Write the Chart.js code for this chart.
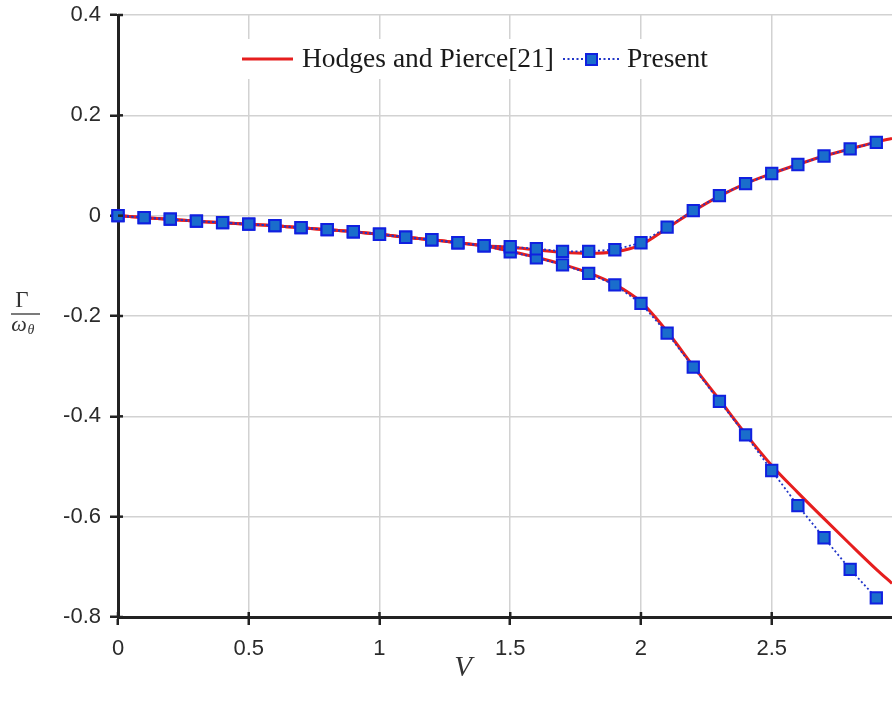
<!DOCTYPE html>
<html><head><meta charset="utf-8">
<script src="https://cdn.jsdelivr.net/npm/chart.js@4.4.1/dist/chart.umd.min.js"></script>
<style>html,body{margin:0;padding:0;background:#fff;} #wrap{width:892px;height:702px;}</style>
</head><body><div id="wrap"><canvas id="c" width="892" height="702"></canvas></div>
<script>
// ---- data ----
const speeds = [0,0.1,0.2,0.3,0.4,0.5,0.6,0.7,0.8,0.9,1.0,1.1,1.2,1.3,1.4,1.5,1.6,1.7,1.8,1.9,2.0,2.1,2.2,2.3,2.4,2.5,2.6,2.7,2.8,2.9];
const presentUpper = [0,-0.004,-0.007,-0.011,-0.014,-0.017,-0.020,-0.024,-0.028,-0.032,-0.037,-0.043,-0.048,-0.054,-0.060,-0.062,-0.066,-0.071,-0.071,-0.068,-0.054,-0.023,0.010,0.040,0.064,0.084,0.102,0.119,0.133,0.146];
const presentLower = [0,-0.004,-0.007,-0.011,-0.014,-0.017,-0.020,-0.024,-0.028,-0.032,-0.037,-0.043,-0.048,-0.054,-0.060,-0.072,-0.084,-0.098,-0.115,-0.138,-0.175,-0.234,-0.302,-0.370,-0.437,-0.508,-0.578,-0.642,-0.705,-0.762];
const hpSpeeds = [0,0.1,0.2,0.3,0.4,0.5,0.6,0.7,0.8,0.9,1.0,1.1,1.2,1.3,1.4,1.5,1.6,1.7,1.8,1.9,2.0,2.1,2.2,2.3,2.4,2.5,2.6,2.7,2.8,2.9,2.96];
const hpUpper = [0,-0.004,-0.007,-0.011,-0.014,-0.017,-0.020,-0.024,-0.028,-0.032,-0.037,-0.043,-0.048,-0.054,-0.060,-0.063,-0.068,-0.073,-0.075,-0.072,-0.058,-0.025,0.009,0.039,0.064,0.084,0.102,0.119,0.133,0.147,0.154];
const hpLower = [0,-0.004,-0.007,-0.011,-0.014,-0.017,-0.020,-0.024,-0.028,-0.032,-0.037,-0.043,-0.048,-0.054,-0.060,-0.071,-0.083,-0.097,-0.114,-0.137,-0.172,-0.231,-0.300,-0.367,-0.435,-0.498,-0.552,-0.604,-0.655,-0.705,-0.733];
const xTicks = [0,0.5,1,1.5,2,2.5];
const yTicks = [-0.8,-0.6,-0.4,-0.2,0,0.2,0.4];
const legendLabels = ['Hodges and Pierce[21]','Present'];
const xTitle = 'V';
const yTitleNum = 'Γ';
const yTitleDen = 'ω';
const yTitleSub = 'θ';

// ---- styles ----
const RED = '#e61e1e';
const BLUE_LINE = '#2236c8';
const MARK_FILL = '#1a6dcc';
const MARK_EDGE = '#1020e0';

const pairs = (xs, ys) => xs.map((x, i) => ({x: x, y: ys[i]}));

const presentStyle = {
  borderColor: BLUE_LINE, borderWidth: 1.8, borderDash: [2, 2.5],
  pointStyle: 'rect', pointRadius: 8, pointBorderWidth: 2,
  pointBackgroundColor: MARK_FILL, pointBorderColor: MARK_EDGE,
  tension: 0, fill: false, clip: false
};
const hpStyle = {
  borderColor: RED, borderWidth: 3, pointRadius: 0,
  cubicInterpolationMode: 'monotone', fill: false
};

const innerTicks = {
  id: 'innerTicks',
  afterDatasetsDraw(chart) {
    const ctx = chart.ctx, xs = chart.scales.x, ys = chart.scales.y;
    ctx.save();
    ctx.strokeStyle = '#222'; ctx.lineWidth = 2.5;
    xs.ticks.forEach(t => { const p = xs.getPixelForValue(t.value);
      ctx.beginPath(); ctx.moveTo(p, ys.bottom); ctx.lineTo(p, ys.bottom - 5); ctx.stroke(); });
    ys.ticks.forEach(t => { const p = ys.getPixelForValue(t.value);
      ctx.beginPath(); ctx.moveTo(xs.left, p); ctx.lineTo(xs.left + 5, p); ctx.stroke(); });
    ctx.restore();
  }
};

const overlay = {
  id: 'overlay',
  afterDraw(chart) {
    const ctx = chart.ctx;
    ctx.save();
    // legend box
    ctx.fillStyle = '#ffffff';
    ctx.fillRect(236, 39, 480, 40);
    // red sample
    ctx.strokeStyle = RED; ctx.lineWidth = 3; ctx.setLineDash([]);
    ctx.beginPath(); ctx.moveTo(242, 59); ctx.lineTo(293, 59); ctx.stroke();
    ctx.fillStyle = '#1a1a1a';
    ctx.font = '27.5px "Liberation Serif", "Times New Roman", serif';
    ctx.textBaseline = 'middle'; ctx.textAlign = 'left';
    ctx.fillText(legendLabels[0], 302, 60);
    // blue sample
    ctx.strokeStyle = BLUE_LINE; ctx.lineWidth = 2; ctx.setLineDash([2, 2.5]);
    ctx.beginPath(); ctx.moveTo(563, 59); ctx.lineTo(619, 59); ctx.stroke();
    ctx.setLineDash([]);
    ctx.fillStyle = MARK_FILL; ctx.strokeStyle = MARK_EDGE; ctx.lineWidth = 2;
    ctx.fillRect(586, 54, 11, 11); ctx.strokeRect(586, 54, 11, 11);
    ctx.fillStyle = '#1a1a1a';
    ctx.fillText(legendLabels[1], 627, 60);
    // x title
    ctx.fillStyle = '#333333';
    ctx.textAlign = 'center';
    ctx.font = 'italic 29px "Liberation Serif", "Times New Roman", serif';
    ctx.fillText(xTitle, 463, 668);
    // y title fraction
    ctx.font = '23px "Liberation Serif", "Times New Roman", serif';
    ctx.fillText(yTitleNum, 22, 301);
    ctx.strokeStyle = '#333333'; ctx.lineWidth = 1.3;
    ctx.beginPath(); ctx.moveTo(11, 314); ctx.lineTo(40, 314); ctx.stroke();
    ctx.font = 'italic 22px "Liberation Serif", "Times New Roman", serif';
    ctx.fillText(yTitleDen, 19, 325);
    ctx.font = 'italic 14px "Liberation Serif", "Times New Roman", serif';
    ctx.fillText(yTitleSub, 31, 330);
    ctx.restore();
  }
};

new Chart(document.getElementById('c'), {
  type: 'line',
  data: {
    datasets: [
      Object.assign({label: legendLabels[1], data: pairs(speeds, presentUpper)}, presentStyle),
      Object.assign({label: legendLabels[1] + ' (2)', data: pairs(speeds, presentLower)}, presentStyle),
      Object.assign({label: legendLabels[0], data: pairs(hpSpeeds, hpUpper)}, hpStyle),
      Object.assign({label: legendLabels[0] + ' (2)', data: pairs(hpSpeeds, hpLower)}, hpStyle)
    ]
  },
  options: {
    responsive: false, animation: false, devicePixelRatio: 1,
    layout: {autoPadding: false, padding: {top: 15, left: 0, right: 0, bottom: 0}},
    plugins: {legend: {display: false}, tooltip: {enabled: false}},
    scales: {
      x: {
        type: 'linear', min: 0, max: 2.96,
        afterBuildTicks: s => { s.ticks = xTicks.map(v => ({value: v})); },
        afterFit: s => { s.height = 85; s.paddingLeft = 0; s.paddingRight = 0; },
        grid: {color: '#d2d2d2', lineWidth: 1.5, tickLength: 8, tickColor: '#222', tickWidth: 2.5},
        border: {color: '#222', width: 3},
        ticks: {padding: 11, color: '#2b2b2b', font: {family: '"Liberation Sans", Arial, sans-serif', size: 22},
                callback: v => String(v), maxRotation: 0}
      },
      y: {
        type: 'linear', min: -0.8, max: 0.4,
        afterBuildTicks: s => { s.ticks = yTicks.map(v => ({value: v})); },
        afterFit: s => { s.width = 118; s.paddingTop = 0; s.paddingBottom = 0; },
        grid: {color: '#d2d2d2', lineWidth: 1.5, tickLength: 8, tickColor: '#222', tickWidth: 2.5},
        border: {color: '#222', width: 3},
        ticks: {padding: 9, color: '#2b2b2b', font: {family: '"Liberation Sans", Arial, sans-serif', size: 22},
                callback: v => String(v)}
      }
    }
  },
  plugins: [innerTicks, overlay]
});
</script>
</body></html>
